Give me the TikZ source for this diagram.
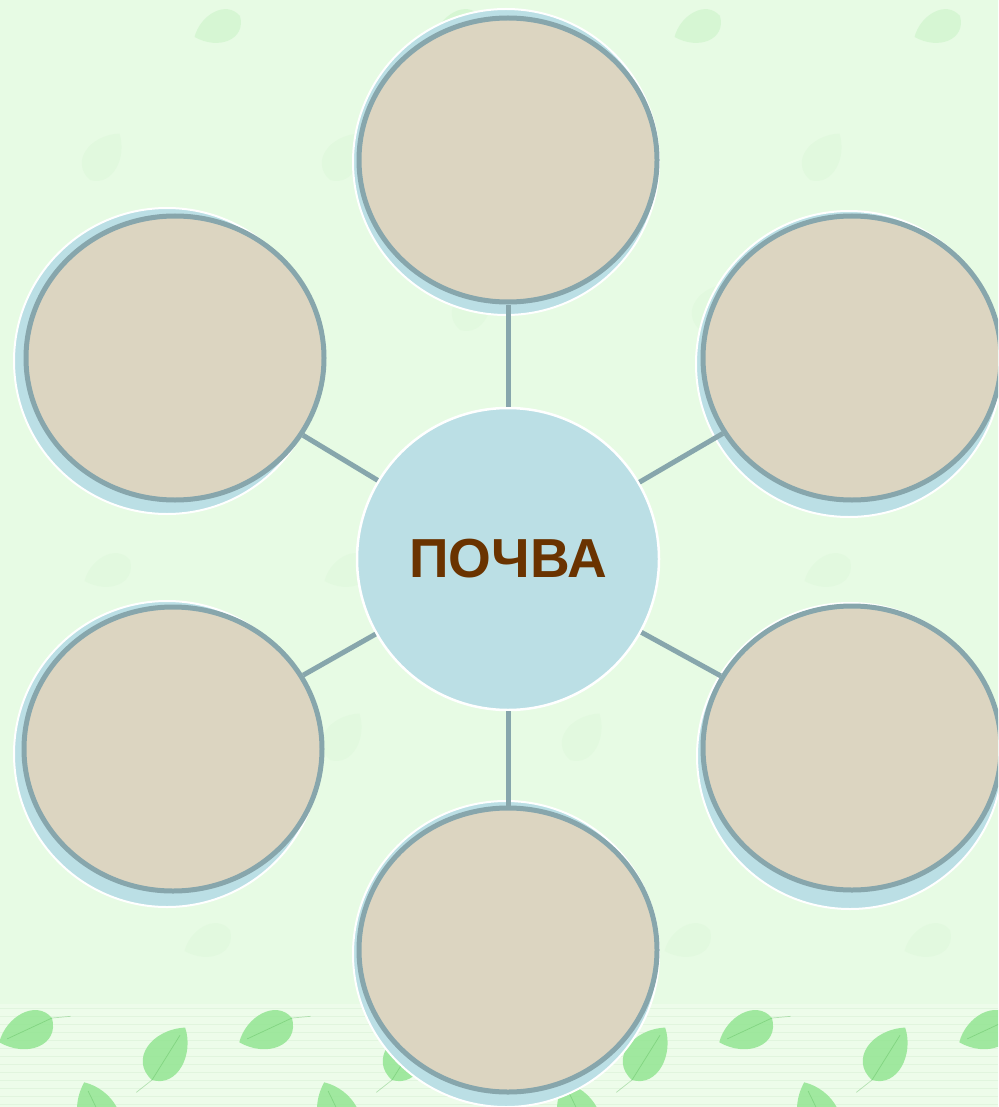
\documentclass[tikz,border=0pt]{standalone}
\usepackage{fontspec}
\setmainfont{Liberation Sans}
\usetikzlibrary{shapes.geometric}
\definecolor{bgcol}{HTML}{E7FBE4}
\definecolor{ringcol}{HTML}{87A6AC}
\definecolor{beigecol}{HTML}{DCD5C1}
\definecolor{paleblue}{HTML}{BBDFE5}
\definecolor{soilbrown}{HTML}{6A3300}
\definecolor{leafgreen}{HTML}{93E592}
\tikzset{
  leafpic/.pic={
    \fill[leafgreen] (0,0) .. controls (-0.48,-0.1) and (-0.42,-0.7) .. (0.04,-1)
      .. controls (0.38,-0.7) and (0.42,-0.1) .. (0,0) -- cycle;
    \draw[green!40!gray, line width=0.7, opacity=0.35] (-0.12,0.3) -- (0,0) -- (0.03,-0.85);
  },
  faintleaf/.pic={
    \fill[leafgreen] (0,0) .. controls (-0.48,-0.1) and (-0.42,-0.7) .. (0.04,-1)
      .. controls (0.38,-0.7) and (0.42,-0.1) .. (0,0) -- cycle;
  },
  basecirc/.style={circle, minimum size=306, inner sep=0, fill=paleblue, draw=white, line width=2},
  ringnode/.style={ellipse, minimum width=298, minimum height=284, inner sep=0,
    fill=beigecol, draw=ringcol, line width=5},
  centernode/.style={circle, minimum size=302, inner sep=0, fill=paleblue, draw=white, line width=2.5,
    text=soilbrown, font=\bfseries\fontsize{55}{60}\selectfont},
  conn/.style={draw=ringcol, line width=5}
}
\begin{document}
\begin{tikzpicture}[x=1pt,y=-1pt]
\useasboundingbox (0,0) rectangle (998,1107);
\clip (0,0) rectangle (998,1107);
\fill[bgcol] (0,0) rectangle (998,1107);
% faint background leaves
\foreach \k in {0,1,2,3} {
  \pic[rotate=117, scale=50, opacity=0.2] at ({240+240*\k},16) {faintleaf};
  \pic[rotate=-30, scale=55, opacity=0.07] at ({90+240*\k},180) {faintleaf};
  \pic[rotate=-30, scale=55, opacity=0.06] at ({220+240*\k},330) {faintleaf};
  \pic[rotate=117, scale=50, opacity=0.06] at ({130+240*\k},560) {faintleaf};
  \pic[rotate=-30, scale=55, opacity=0.06] at ({90+240*\k},760) {faintleaf};
  \pic[rotate=117, scale=50, opacity=0.06] at ({230+240*\k},930) {faintleaf};
}
% bottom band
\fill[white, opacity=0.25] (0,1004) rectangle (998,1107);
\foreach \yy in {1008,1016,...,1104} {
  \draw[green!30!gray, opacity=0.08, line width=1] (0,\yy) -- (998,\yy);
}
\foreach \k in {0,1,2,3,4} {
  \pic[rotate=117, scale=58, opacity=0.85] at ({52+240*\k},1018) {leafpic};
  \pic[rotate=-30, scale=62, opacity=0.85] at ({152+240*\k},1080) {leafpic};
  \pic[rotate=28, scale=64, opacity=0.85] at ({112+240*\k},1140) {leafpic};
}
% base (shadow) circles
\node[basecirc] (tb)  at (506,162) {};
\node[basecirc] (ulb) at (167,361) {};
\node[basecirc] (urb) at (849,364) {};
\node[basecirc] (llb) at (167,754) {};
\node[basecirc] (lrb) at (850,756) {};
\node[basecirc] (bb)  at (506,954) {};
% rings
\node[ringnode] (t)  at (508,160) {};
\node[ringnode] (ul) at (175,358) {};
\node[ringnode] (ur) at (852,358) {};
\node[ringnode] (ll) at (173,749) {};
\node[ringnode] (lr) at (852,748) {};
\node[ringnode] (b)  at (508,950) {};
% center
\node[centernode] (c) at (508,559) {ПОЧВА};
% connectors
\draw[conn] (c) -- (t);
\draw[conn] (c) -- (ul);
\draw[conn] (c) -- (ur);
\draw[conn] (c) -- (ll);
\draw[conn] (c) -- (lr);
\draw[conn] (c) -- (b);
\end{tikzpicture}
\end{document}
